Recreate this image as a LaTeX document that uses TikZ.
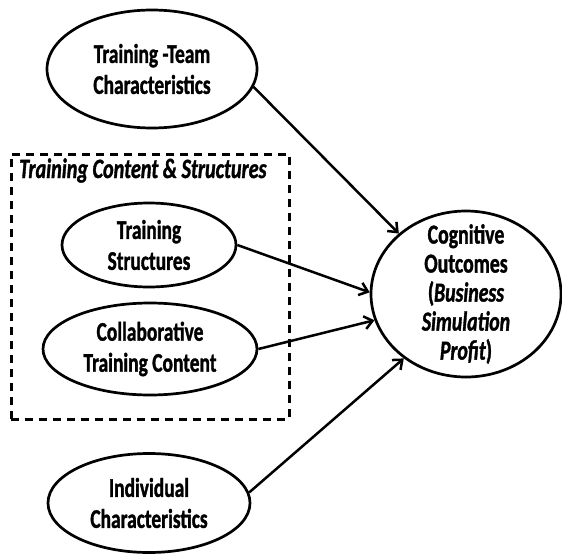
\documentclass[tikz,border=0pt]{standalone}
\usepackage{fontspec}
\setmainfont{Carlito}[
  UprightFont={Carlito},
  BoldFont={Carlito Bold},
  ItalicFont={Carlito Italic},
  BoldItalicFont={Carlito Bold Italic},
  BoldFeatures={FakeBold=1.2},
  BoldItalicFeatures={FakeBold=1.2},
  FakeStretch=0.72]
\usetikzlibrary{arrows.meta,shapes.geometric}
\begin{document}
\begin{tikzpicture}[x=1pt,y=-1pt,
  oval/.style={draw,ellipse,line width=2.7pt,inner sep=0pt},
  ovaltext/.style={align=center,inner sep=0pt,font=\bfseries\fontsize{27}{31}\selectfont},
  link/.style={line width=2.5pt,-{Straight Barb[length=8pt,width=13pt]}},
  group/.style={draw,dash pattern=on 8pt off 6pt,line width=2.5pt,inner sep=0pt}]
\useasboundingbox (0,0) rectangle (562,554);

% dashed group frame and its heading
\node[group,anchor=north west,minimum width=278pt,minimum height=265pt] (box) at (10,153) {};
\node[anchor=base west,inner sep=0pt,font=\bfseries\itshape\fontsize{28}{30}\selectfont] (title) at (19,178) {Training Content \& Structures};

% ovals
\node[oval,minimum width=210pt,minimum height=118pt] (team) at (152,69) {};
\node[oval,minimum width=174pt,minimum height=84pt] (struct) at (149,245) {};
\node[oval,minimum width=214pt,minimum height=92pt] (collab) at (150,349) {};
\node[oval,minimum width=202pt,minimum height=99pt] (indiv) at (149,503) {};
\node[oval,minimum width=190pt,minimum height=166pt] (outcome) at (466,294) {};

% oval labels
\node[ovaltext] (team-t) at (team.center) {Training -Team\\Characteristics};
\node[ovaltext] (struct-t) at (struct.center) {Training\\Structures};
\node[ovaltext] (collab-t) at (collab.center) {Collaborative\\Training Content};
\node[ovaltext] (indiv-t) at (indiv.center) {Individual\\Characteristics};
\node[ovaltext,font=\bfseries\fontsize{27.5}{29}\selectfont] (outcome-t) at (outcome.center)
  {Cognitive\\Outcomes\\(\textit{Business}\\\textit{Simulation}\\\textit{Profit})};

% paths of influence
\draw[link] (team.-10) -- (outcome.138);
\draw[link] (struct.east) -- (outcome.179);
\draw[link] (collab.east) -- (outcome.196);
\draw[link] (indiv.6) -- (outcome.226);
\end{tikzpicture}
\end{document}
